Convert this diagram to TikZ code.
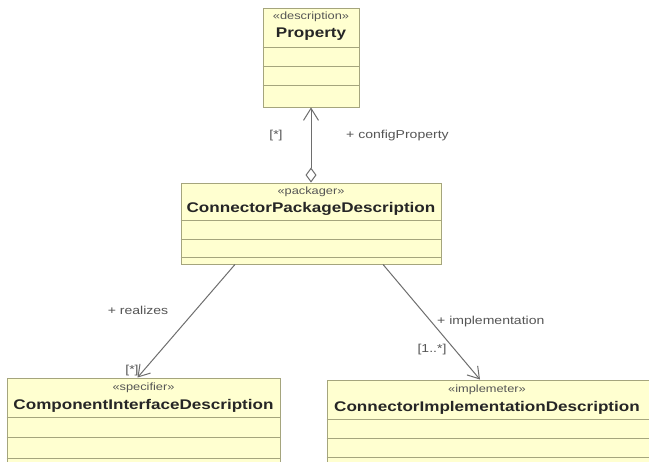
\documentclass[tikz,border=0pt]{standalone}
\usepackage{fontspec}
\setmainfont{Liberation Sans}[FakeStretch=1.22]
\usepackage{xcolor}
\usepackage{tikz}
\usetikzlibrary{arrows.meta}

\definecolor{umlfill}{RGB}{255,255,208}
\definecolor{umlborder}{RGB}{165,165,125}
\definecolor{umlline}{RGB}{110,110,110}
\definecolor{umltext}{RGB}{85,85,85}

\begin{document}
\begin{tikzpicture}[x=1pt, y=-1pt,
  every node/.style={inner sep=0pt},
  classbox/.style={draw=umlborder, fill=umlfill, line width=0.9pt},
  compline/.style={draw=umlborder, line width=0.9pt},
  stereo/.style={font=\fontsize{10.5}{12}\selectfont, text=umltext},
  cname/.style={font=\fontsize{14}{16}\selectfont\bfseries, text=black!85},
  role/.style={font=\fontsize{11.5}{13}\selectfont, text=umltext},
  assoc/.style={draw=umlline, line width=1pt, -{Straight Barb[length=11pt,width=14pt]}},
  aggr/.style={draw=umlline, line width=1pt, {Diamond[open,length=15pt,width=11pt]}-{Straight Barb[length=12pt,width=15pt]}}]

\clip (0,0) rectangle (649,462);
\fill[white] (0,0) rectangle (649,462);

% Property
\node[classbox, minimum width=96pt, minimum height=99pt] (prop) at (311,57.5) {};
\node[stereo] (propS) at ([yshift=-9pt]prop.north) {«description»};
\node[cname] (propN) at ([yshift=-27pt]prop.north) {Property};
\foreach \y in {47,66,85}
  \draw[compline] (prop.west |- 0,\y) -- (prop.east |- 0,\y);

% ConnectorPackageDescription
\node[classbox, minimum width=260pt, minimum height=81pt] (cpd) at (311,223.5) {};
\node[stereo] (cpdS) at ([yshift=-9pt]cpd.north) {«packager»};
\node[cname] (cpdN) at ([yshift=-26pt]cpd.north) {ConnectorPackageDescription};
\foreach \y in {220,239,257}
  \draw[compline] (cpd.west |- 0,\y) -- (cpd.east |- 0,\y);

% ComponentInterfaceDescription
\node[classbox, minimum width=273pt, minimum height=100pt] (cid) at (143.5,428) {};
\node[stereo] (cidS) at ([yshift=-10pt]cid.north) {«specifier»};
\node[cname] (cidN) at ([yshift=-28pt]cid.north) {ComponentInterfaceDescription};
\foreach \y in {417,437,458}
  \draw[compline] (cid.west |- 0,\y) -- (cid.east |- 0,\y);

% ConnectorImplementationDescription
\node[classbox, minimum width=324pt, minimum height=100pt] (cimp) at (489,430) {};
\node[stereo] (cimpS) at ([yshift=-10pt,xshift=-2pt]cimp.north) {«implemeter»};
\node[cname] (cimpN) at ([yshift=-28pt,xshift=-2pt]cimp.north) {ConnectorImplementationDescription};
\foreach \y in {419,438,457}
  \draw[compline] (cimp.west |- 0,\y) -- (cimp.east |- 0,\y);

% aggregation
\draw[aggr] (cpd.north) -- (prop.south);
\node[role] (cfgM) at (276,136) {[*]};
\node[role, anchor=west] (cfgR) at (346,136) {+ configProperty};

% associations
\draw[assoc] ([xshift=-76pt]cpd.south) -- ([xshift=-6pt]cid.north);
\node[role] (realR) at (138,310) {+ realizes};
\node[role] (realM) at (132,371) {[*]};

\draw[assoc] ([xshift=72pt]cpd.south) -- ([xshift=-9pt]cimp.north);
\node[role, anchor=west] (implR) at (437,322) {+ implementation};
\node[role] (implM) at (432,350) {[1..*]};

\end{tikzpicture}
\end{document}
